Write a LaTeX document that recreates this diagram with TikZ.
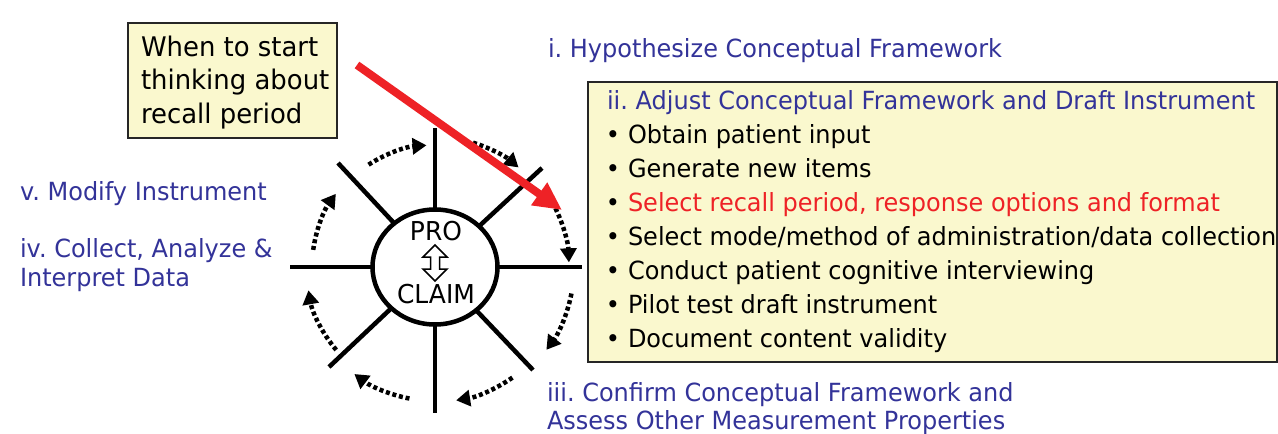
\documentclass[tikz,border=0pt]{standalone}
\usepackage{fontspec}
\setmainfont[FakeStretch=0.96]{DejaVu Sans}
\frenchspacing
\usetikzlibrary{arrows.meta,shapes.geometric}
\definecolor{stageblue}{RGB}{51,51,153}
\definecolor{hotred}{RGB}{238,34,38}
\definecolor{paleyellow}{RGB}{250,248,206}
\begin{document}
\begin{tikzpicture}[x=1pt,y=-1pt,
  every node/.style={inner sep=0pt,outer sep=0pt},
  stage/.style={anchor=base west,text=stageblue,font=\fontsize{25}{30}\selectfont},
  plain/.style={anchor=base west,text=black,font=\fontsize{25}{30}\selectfont},
  hot/.style={anchor=base west,text=hotred,font=\fontsize{25}{30}\selectfont},
  bul/.style={anchor=base,text=black,font=\fontsize{25}{30}\selectfont},
  notetext/.style={anchor=base west,text=black,font=\fontsize{27}{30}\selectfont},
  ybox/.style={draw=black!85,fill=paleyellow,line width=1.6pt,anchor=north west},
  spoke/.style={draw=black,line width=4.5pt},
  cyc/.style={draw=black,line width=4.5pt,dash pattern=on 4pt off 2.8pt,
    -{Triangle[length=14pt,width=16pt]}},
  hotarrow/.style={draw=hotred,line width=8pt,-{Triangle[length=28pt,width=26pt]}},
]
\useasboundingbox (0,0) rectangle (1278,434);
\fill[white] (0,0) rectangle (1278,434);

% callout box
\node[ybox,minimum width=209pt,minimum height=115pt] (note) at (128,23) {};
\node[notetext] (n1) at (141,56) {When to start};
\node[notetext] (n2) at (141,89.5) {thinking about};
\node[notetext] (n3) at (141,123) {recall period};

% stage labels
\node[stage] (s1) at (548,57) {i. Hypothesize Conceptual Framework};
\node[stage] (s3a) at (547,401) {iii. Confirm Conceptual Framework and};
\node[stage] (s3b) at (547,429) {Assess Other Measurement Properties};
\node[stage] (s5) at (20,200) {v. Modify Instrument};
\node[stage] (s4a) at (20,257) {iv. Collect, Analyze \&};
\node[stage] (s4b) at (20,286) {Interpret Data};

% right box
\node[ybox,minimum width=689pt,minimum height=280pt] (box) at (588,82) {};
\node[stage] (s2) at (607,109) {ii. Adjust Conceptual Framework and Draft Instrument};
\foreach \y in {143,177,211,245,279,313,347} {\node[bul] at (613,\y) {•};}
\node[plain] (b1) at (628,143) {Obtain patient input};
\node[plain] (b2) at (628,177) {Generate new items};
\node[hot]   (b3) at (628,211) {Select recall period, response options and format};
\node[plain] (b4) at (628,245) {Select mode/method of administration/data collection};
\node[plain] (b5) at (628,279) {Conduct patient cognitive interviewing};
\node[plain] (b6) at (628,313) {Pilot test draft instrument};
\node[plain] (b7) at (628,347) {Document content validity};

% wheel
\node[draw,ellipse,line width=4.5pt,minimum width=125pt,minimum height=115pt] (hub) at (435,267) {};
\coordinate (eT) at (435,128);
\coordinate (eB) at (435,413);
\coordinate (eL) at (290,267);
\coordinate (eR) at (582,267);
\coordinate (eUL) at (338,163);
\coordinate (eUR) at (542,168);
\coordinate (eLL) at (329,367);
\coordinate (eLR) at (533,370);
\foreach \e in {eT,eB,eL,eR,eUL,eUR,eLL,eLR} {\draw[spoke] (hub) -- (\e);}

\node[anchor=base,font=\fontsize{26}{30}\selectfont] (pro) at (436,240) {PRO};
\node[anchor=base,font=\fontsize{26}{30}\selectfont] (claim) at (436,303) {CLAIM};
\draw[line width=1.5pt,fill=white] (435,245) -- (447,257) -- (439.5,257) -- (439.5,269) -- (447,269)
  -- (435,281) -- (423,269) -- (430.5,269) -- (430.5,257) -- (423,257) -- cycle;

% cycle arrows (angles measured clockwise, y downward)
\draw[cyc] (hub.center) ++(237:122) arc[start angle=237,end angle=266,radius=122];
\draw[cyc] (hub.center) ++(287:130) arc[start angle=287,end angle=310,radius=130];
\draw[cyc] (hub.center) ++(334:134) arc[start angle=334,end angle=358,radius=134];
\draw[cyc] (hub.center) ++(11:139) arc[start angle=11,end angle=37,radius=137];
\draw[cyc] (hub.center) ++(55:135) arc[start angle=55,end angle=81,radius=135];
\draw[cyc] (hub.center) ++(101:134) arc[start angle=101,end angle=127,radius=134];
\draw[cyc] (hub.center) ++(140:129) arc[start angle=140,end angle=170,radius=127];
\draw[cyc] (hub.center) ++(188:123) arc[start angle=188,end angle=216,radius=125];

% red pointer
\coordinate (rs) at (357,65);
\coordinate (re) at (562,210);
\draw[hotarrow] (rs) -- (re);
\end{tikzpicture}
\end{document}
